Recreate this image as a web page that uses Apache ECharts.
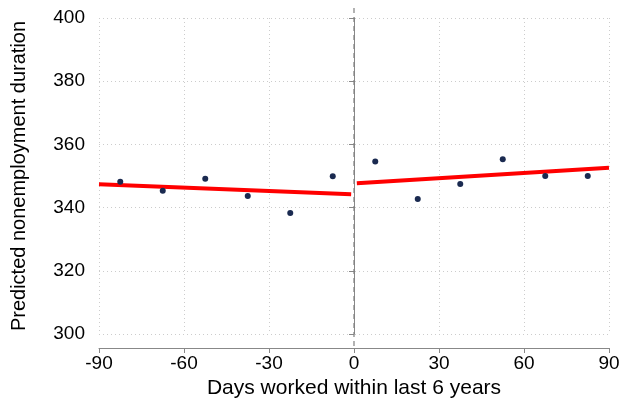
<!DOCTYPE html>
<html>
<head>
<meta charset="utf-8">
<script src="https://cdn.jsdelivr.net/npm/echarts@6/dist/echarts.min.js"></script>
<style>
  body { margin: 0; background: #fff; }
  #chart { width: 621px; height: 402px; }
</style>
</head>
<body>
<div id="chart"></div>
<script>
// binned means, left and right of the cutoff
var binsLeft = [-82.5, -67.5, -52.5, -37.5, -22.5, -7.5];
var meansLeft = [348.2, 345.3, 349.1, 343.7, 338.3, 349.9];
var binsRight = [7.5, 22.5, 37.5, 52.5, 67.5, 82.5];
var meansRight = [354.6, 342.7, 347.5, 355.3, 350.0, 350.0];

// linear fits
var fitLeftX = [-90, -1];
var fitLeftY = [347.4, 344.2];
var fitRightX = [1, 90];
var fitRightY = [347.7, 352.6];

// cutoff line (runs a bit past the plot area, like the original)
var cutoffX = [0, 0];
var cutoffY = [403.2, 295.6];

var xTicks = [-90, -60, -30, 0, 30, 60, 90];
var yTicks = [300, 320, 340, 360, 380, 400];

function pairs(xs, ys) {
  return xs.map(function (x, i) { return [x, ys[i]]; });
}

var font = "'Liberation Sans', Arial, Helvetica, sans-serif";
var chart = echarts.init(document.getElementById("chart"));

// no vertical grid line under the cutoff, the dashed line sits there
var xGridColors = xTicks.map(function (t) { return t === 0 ? "rgba(0,0,0,0)" : "#ccc"; });

var option = {
  animation: false,
  grid: { left: 99, right: 12, top: 18, bottom: 68, outerBoundsMode: "none", containLabel: false },
  xAxis: {
    type: "value",
    min: xTicks[0],
    max: xTicks[xTicks.length - 1],
    interval: 30,
    offset: 14,
    name: "Days worked within last 6 years",
    nameLocation: "middle",
    nameGap: 25,
    nameTextStyle: { fontFamily: font, fontSize: 21, color: "#000" },
    axisLine: { lineStyle: { color: "#888", width: 1 } },
    axisTick: { length: 5, lineStyle: { color: "#888" } },
    axisLabel: { fontFamily: font, fontSize: 19, color: "#000", margin: 6 },
    splitLine: { lineStyle: { color: xGridColors, type: [1, 3], width: 1 } }
  },
  yAxis: {
    type: "value",
    min: yTicks[0],
    max: yTicks[yTicks.length - 1],
    interval: 20,
    offset: 10,
    name: "Predicted nonemployment duration",
    nameLocation: "middle",
    nameGap: 60,
    nameTextStyle: { fontFamily: font, fontSize: 20, color: "#000" },
    axisLine: { show: true, lineStyle: { color: "#888", width: 1 } },
    axisTick: { show: true, length: 5, lineStyle: { color: "#888" } },
    axisLabel: { fontFamily: font, fontSize: 19, color: "#000", margin: 4 },
    splitLine: { lineStyle: { color: "#ccc", type: [1, 3], width: 1 } }
  },
  series: [
    {
      type: "line",
      data: pairs(cutoffX, cutoffY),
      symbol: "none",
      clip: false,
      silent: true,
      lineStyle: { color: "#808080", type: [5, 4], width: 1.2 },
      z: 2
    },
    {
      type: "line",
      data: pairs(fitLeftX, fitLeftY),
      symbol: "none",
      lineStyle: { color: "#ff0000", width: 4 },
      z: 3
    },
    {
      type: "line",
      data: pairs(fitRightX, fitRightY),
      symbol: "none",
      lineStyle: { color: "#ff0000", width: 4 },
      z: 3
    },
    {
      type: "scatter",
      data: pairs(binsLeft, meansLeft).concat(pairs(binsRight, meansRight)),
      symbol: "circle",
      symbolSize: 6,
      itemStyle: { color: "#1a2a50", opacity: 1 },
      z: 4
    }
  ]
};
chart.setOption(option);
</script>
</body>
</html>
